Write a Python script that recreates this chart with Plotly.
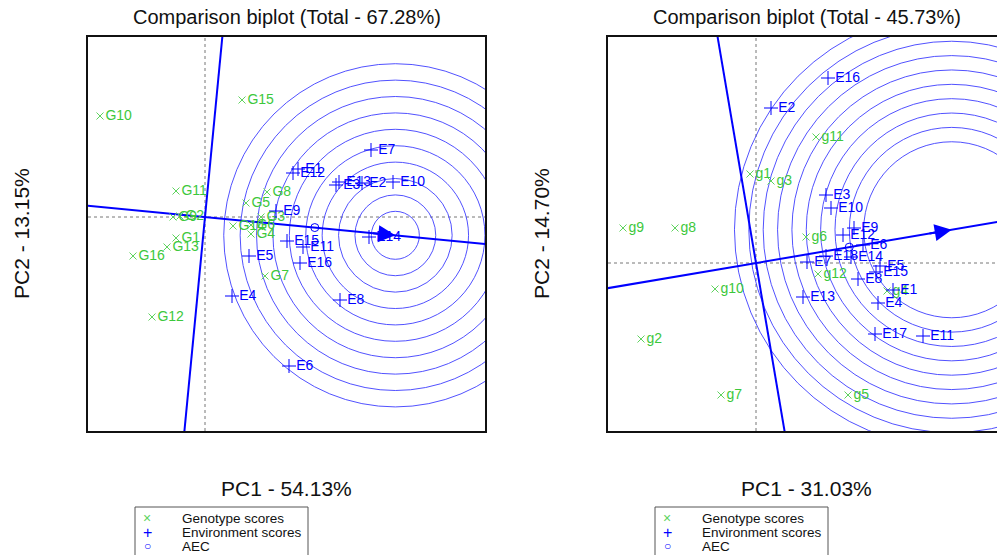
import numpy as np
import plotly.graph_objects as go

W, H = 997, 555
FONT = "Liberation Sans, Arial, sans-serif"
GREEN_TXT = "#3cc83c"
GREEN_MK = "#5fd35f"
BLUE = "#0000ff"
RING = "#3d3dff"

# ---------------- data: left panel ----------------
TITLE_L = "Comparison biplot (Total - 67.28%)"
XLAB_L = "PC1 - 54.13%"
YLAB_L = "PC2 - 13.15%"
GEN_L = ["G1", "G2", "G3", "G4", "G5", "G6", "G7", "G8", "G9", "G10",
         "G11", "G12", "G13", "G14", "G15", "G16"]
GEN_L_PC1 = [-0.725, -0.625, 1.40, 1.15, 1.025, 1.15, 1.50, 1.55, -0.80, -2.625,
             -0.725, -1.325, -0.95, 0.70, 0.925, -1.80]
GEN_L_PC2 = [-0.525, 0.025, 0.00, -0.425, 0.35, -0.20, -1.475, 0.625, 0.00, 2.525,
             0.65, -2.50, -0.75, -0.225, 2.925, -0.975]
ENV_L = ["E1", "E2", "E3", "E4", "E5", "E6", "E7", "E8", "E9", "E10",
         "E11", "E12", "E13", "E14", "E15", "E16"]
ENV_L_PC1 = [2.325, 3.925, 3.275, 0.675, 1.10, 2.10, 4.15, 3.375, 1.775, 4.70,
             2.45, 2.20, 3.35, 4.10, 2.05, 2.375]
ENV_L_PC2 = [1.20, 0.85, 0.80, -1.975, -0.975, -3.725, 1.675, -2.075, 0.15, 0.875,
             -0.75, 1.10, 0.875, -0.50, -0.60, -1.15]

# ---------------- data: right panel ----------------
TITLE_R = "Comparison biplot (Total - 45.73%)"
XLAB_R = "PC1 - 31.03%"
YLAB_R = "PC2 - 14.70%"
GEN_R = ["g1", "g2", "g3", "g4", "g5", "g6", "g7", "g8", "g9", "g10", "g11", "g12"]
GEN_R_PC1 = [-0.15, -2.875, 0.375, 3.275, 2.30, 1.25, -0.875, -2.025, -3.325, -1.025, 1.50, 1.55]
GEN_R_PC2 = [2.225, -1.90, 2.05, -0.70, -3.30, 0.65, -3.30, 0.875, 0.875, -0.65, 3.15, -0.275]
ENV_R = ["E1", "E2", "E3", "E4", "E5", "E6", "E7", "E8", "E9", "E10",
         "E11", "E12", "E13", "E14", "E15", "E16", "E17", "E18"]
ENV_R_PC1 = [3.425, 0.375, 1.75, 3.05, 3.10, 2.675, 1.275, 2.55, 2.45, 1.875,
             4.175, 2.175, 1.175, 2.375, 3.00, 1.80, 2.975, 1.75]
ENV_R_PC2 = [-0.675, 3.875, 1.70, -1.00, -0.075, 0.45, 0.025, -0.40, 0.875, 1.375,
             -1.825, 0.70, -0.85, 0.15, -0.225, 4.625, -1.775, 0.175]

LEGEND_LABELS = ["Genotype scores", "Environment scores", "AEC"]

# concentric rings (score units): innermost radius and spacing, per panel
RING_INNER_L, RING_STEP_L = 0.60, 0.41
RING_INNER_R, RING_STEP_R = 2.20, 0.359
N_RINGS = 10

# ---------------- layout geometry (pixels) ----------------
def px(x):
    return x / W

def py(y):
    return 1 - y / H

PANELS = [
    dict(xa="x", ya="y", dom_x=[px(88), px(485)], dom_y=[py(431), py(37)],
         xr=[-2.925, 7.0], yr=[-5.35, 4.5], cx=286.5, ylab_x=21, leg_x=135,
         title=TITLE_L, xlab=XLAB_L, ylab=YLAB_L, gen=(GEN_L, GEN_L_PC1, GEN_L_PC2),
         env=(ENV_L, ENV_L_PC1, ENV_L_PC2), rings=(RING_INNER_L, RING_STEP_L)),
    dict(xa="x2", ya="y2", dom_x=[px(608), 1.0], dom_y=[py(431), py(37)],
         xr=[-3.7, 6.025], yr=[-4.2, 5.65], cx=806.5, ylab_x=541, leg_x=655,
         title=TITLE_R, xlab=XLAB_R, ylab=YLAB_R, gen=(GEN_R, GEN_R_PC1, GEN_R_PC2),
         env=(ENV_R, ENV_R_PC1, ENV_R_PC2), rings=(RING_INNER_R, RING_STEP_R)),
]

fig = go.Figure()
shapes = []
annotations = []

def note(x, y, text, size, color="#111111", xanchor="center", angle=0):
    return dict(x=px(x), y=py(y), xref="paper", yref="paper", text=text, showarrow=False,
                xanchor=xanchor, yanchor="middle", textangle=angle,
                font=dict(family=FONT, size=size, color=color))

for i, p in enumerate(PANELS):
    xa, ya = p["xa"], p["ya"]
    gname, gx, gy = p["gen"]
    ename, ex, ey = p["env"]
    ex_a, ey_a = np.array(ex), np.array(ey)
    aec = np.array([ex_a.mean(), ey_a.mean()])
    u = aec / np.linalg.norm(aec)
    vmax = np.sqrt(ex_a ** 2 + ey_a ** 2).max()
    ideal = u * vmax
    perp = np.array([-u[1], u[0]])

    # dotted axes through origin
    shapes.append(dict(type="line", xref=xa, yref=ya + " domain", x0=0, x1=0, y0=0, y1=1,
                       line=dict(color="#777777", width=1, dash="dot"), layer="below"))
    shapes.append(dict(type="line", xref=xa + " domain", yref=ya, x0=0, x1=1, y0=0, y1=0,
                       line=dict(color="#777777", width=1, dash="dot"), layer="below"))
    # concentric circles around the ideal environment
    r0, dr = p["rings"]
    for k in range(N_RINGS):
        r = r0 + dr * k
        shapes.append(dict(type="circle", xref=xa, yref=ya,
                           x0=ideal[0] - r, x1=ideal[0] + r, y0=ideal[1] - r, y1=ideal[1] + r,
                           line=dict(color=RING, width=0.9), layer="below"))

    # AEC abscissa and ordinate
    t = np.array([-20.0, 20.0])
    fig.add_trace(go.Scatter(x=t * u[0], y=t * u[1], mode="lines", xaxis=xa, yaxis=ya,
                             line=dict(color=BLUE, width=2), showlegend=False, hoverinfo="skip"))
    fig.add_trace(go.Scatter(x=t * perp[0], y=t * perp[1], mode="lines", xaxis=xa, yaxis=ya,
                             line=dict(color=BLUE, width=2), showlegend=False, hoverinfo="skip"))

    # genotype scores
    fig.add_trace(go.Scatter(x=gx, y=gy, text=gname, mode="markers+text", xaxis=xa, yaxis=ya,
                             textposition="middle right",
                             textfont=dict(family=FONT, size=14, color=GREEN_TXT),
                             marker=dict(symbol="x-thin-open", size=7, color=GREEN_MK,
                                         line=dict(color=GREEN_MK, width=1)),
                             showlegend=False, cliponaxis=True))
    # environment scores
    fig.add_trace(go.Scatter(x=ex, y=ey, text=ename, mode="markers+text", xaxis=xa, yaxis=ya,
                             textposition="middle right",
                             textfont=dict(family=FONT, size=14, color=BLUE),
                             marker=dict(symbol="cross-thin-open", size=10, color=BLUE,
                                         line=dict(color=BLUE, width=1)),
                             showlegend=False, cliponaxis=True))
    # AEC point
    fig.add_trace(go.Scatter(x=[aec[0]], y=[aec[1]], mode="markers", xaxis=xa, yaxis=ya,
                             marker=dict(symbol="circle-open", size=8, color=BLUE,
                                         line=dict(color=BLUE, width=1)),
                             showlegend=False))
    # arrow to the ideal point
    back = ideal - u * 0.6
    annotations.append(dict(x=ideal[0], y=ideal[1], ax=back[0], ay=back[1], xref=xa, yref=ya,
                            axref=xa, ayref=ya, text="", showarrow=True, arrowhead=2,
                            arrowsize=1.7, arrowwidth=2, arrowcolor=BLUE))

    # titles
    annotations.append(note(p["cx"], 17, p["title"], 20))
    annotations.append(note(p["cx"], 488, p["xlab"], 21))
    annotations.append(note(p["ylab_x"], 234, p["ylab"], 21, angle=-90))

    # legend box
    lx = p["leg_x"]
    shapes.append(dict(type="rect", xref="paper", yref="paper", x0=px(lx), x1=px(lx + 173),
                       y0=-0.2, y1=py(507), line=dict(color="#555555", width=1)))
    syms = [("×", GREEN_MK, 14), ("+", BLUE, 16), ("○", BLUE, 12)]
    for j, (lab, (s, c, fs)) in enumerate(zip(LEGEND_LABELS, syms)):
        yy = 518 + 14 * j
        annotations.append(note(lx + 12, yy, s, fs, color=c))
        annotations.append(note(lx + 45, yy, lab, 13.5, xanchor="left"))

    axis_common = dict(showgrid=False, zeroline=False, showticklabels=False, ticks="",
                       showline=True, linecolor="#111111", linewidth=1.5)
    xkey = "xaxis" if i == 0 else "xaxis2"
    ykey = "yaxis" if i == 0 else "yaxis2"
    fig.update_layout(**{
        xkey: dict(domain=p["dom_x"], range=p["xr"], anchor=ya, mirror=True, **axis_common),
        ykey: dict(domain=p["dom_y"], range=p["yr"], anchor=xa, mirror=(i == 0), **axis_common),
    })

fig.update_layout(width=W, height=H, margin=dict(l=0, r=0, t=0, b=0),
                  paper_bgcolor="white", plot_bgcolor="white",
                  shapes=shapes, annotations=annotations, showlegend=False)
fig.write_html("out.html", config={"displayModeBar": False},
               post_script="document.body.style.margin='0px';document.body.style.overflow='hidden';")
